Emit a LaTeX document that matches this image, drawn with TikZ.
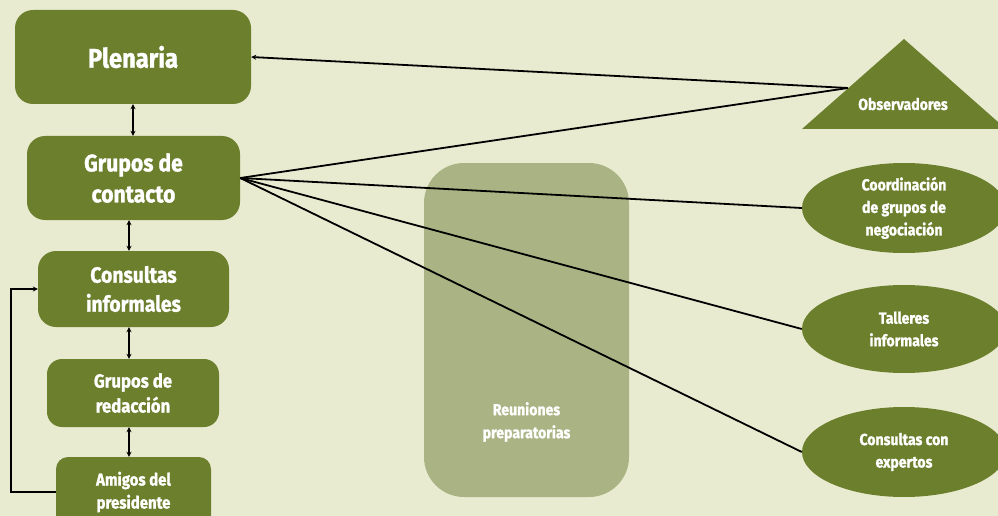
\documentclass[tikz,border=0pt]{standalone}
\usepackage{fontspec}
\setmainfont{Fira Sans}[FakeStretch=0.88, BoldFeatures={FakeBold=1.2}]
\usetikzlibrary{shapes.geometric, arrows.meta, positioning}
\definecolor{fondo}{HTML}{E9EBD0}
\definecolor{verde}{HTML}{6B7F2D}
\definecolor{verdeclaro}{HTML}{AAB383}

\tikzset{
  caja/.style={fill=verde, text=white, rounded corners=18pt, align=center, inner sep=0pt},
  elipse/.style={ellipse, fill=verde, text=white, align=center, minimum width=204pt, minimum height=90pt, inner sep=0pt,
    font=\bfseries\fontsize{16}{22.5}\selectfont},
  enlace/.style={line width=1.8pt},
  doble/.style={line width=1.8pt, {Stealth[length=5pt,width=5pt]}-{Stealth[length=5pt,width=5pt]}}
}

\begin{document}
\begin{tikzpicture}[x=1pt, y=-1pt]
  \useasboundingbox (0,0) rectangle (998,516);
  \clip (0,0) rectangle (998,516);
  \fill[fondo] (0,0) rectangle (998,516);

  % columna izquierda
  \node[caja, minimum width=236pt, minimum height=94pt, font=\bfseries\fontsize{27}{31}\selectfont] (plenaria) at (133,57) {Plenaria};
  \node[caja, minimum width=213pt, minimum height=84pt, font=\bfseries\fontsize{24}{31}\selectfont] (contacto) at (133.5,178) {Grupos de\\contacto};
  \node[caja, minimum width=191pt, minimum height=76pt, font=\bfseries\fontsize{22}{29}\selectfont] (consultas) at (133.5,289) {Consultas\\informales};
  \node[caja, rounded corners=15pt, minimum width=172pt, minimum height=68pt, font=\bfseries\fontsize{19}{25}\selectfont] (redaccion) at (133,393) {Grupos de\\redacción};
  \node[caja, rounded corners=12pt, minimum width=155pt, minimum height=70pt, font=\bfseries\fontsize{17}{23}\selectfont] (amigos) at (133.5,492) {Amigos del\\presidente};

  % bloque central
  \node[fill=verdeclaro, text=white, rounded corners=40pt, minimum width=205pt, minimum height=334pt, inner sep=0pt] (reuniones) at (526.5,330) {};
  \node[text=white, align=center, font=\bfseries\fontsize{16}{23}\selectfont] (reuntexto) at (526.5,422) {Reuniones\\preparatorias};

  % observadores
  \fill[verde] (802,129) -- (904,39) -- (1006,129) -- cycle;
  \node[text=white, font=\bfseries\fontsize{16}{20}\selectfont] (observ) at (903,104) {Observadores};
  \coordinate (obs) at (848,88);

  % elipses
  \node[elipse] (coord) at (904,208) {Coordinación\\de grupos de\\negociación};
  \node[elipse, minimum height=88pt] (talleres) at (904,329) {Talleres\\informales};
  \node[elipse] (expertos) at (904,452) {Consultas con\\expertos};

  % conectores
  \draw[doble] (plenaria) -- (plenaria.south |- contacto.north);
  \draw[doble] ([xshift=-4.5pt]contacto.south) -- ([xshift=-4.5pt]contacto.south |- consultas.north);
  \draw[doble] ([xshift=-4.5pt]consultas.south) -- ([xshift=-4.5pt]consultas.south |- redaccion.north);
  \draw[doble] ([xshift=-4pt]redaccion.south) -- ([xshift=-4pt]redaccion.south |- amigos.north);
  \draw[enlace, -{Stealth[length=5pt,width=5pt]}] (amigos.west) -| (11,289) -- (consultas.west);

  \draw[enlace, -{Stealth[length=5pt,width=5pt]}] (obs) -- (plenaria.east);
  \draw[enlace] (obs) -- (contacto.east);
  \draw[enlace] (contacto.east) -- (coord.west);
  \draw[enlace] (contacto.east) -- (talleres.west);
  \draw[enlace] (contacto.east) -- (expertos.west);
\end{tikzpicture}
\end{document}
